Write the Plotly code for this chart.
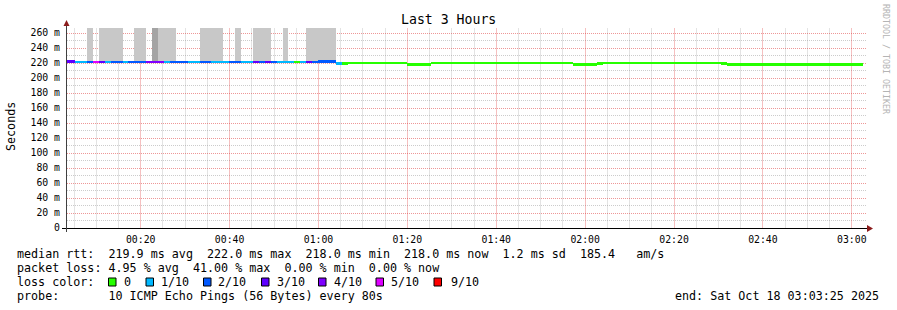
import plotly.graph_objects as go
import pandas as pd

# ---------------- data ----------------
FIRST_STEP_END = "2025-10-18 00:03:55"
STEP_SECONDS = 80
RANGE_START = "2025-10-18 00:03:25"
RANGE_END = "2025-10-18 03:03:25"

# lost pings (out of 10) per 80 s step
loss_count = [
    3, 3, 1, 1, 2, 5, 3, 1, 2, 2, 1, 2, 2, 2, 4, 4, 4, 1, 2, 2,
    2, 1, 1, 2, 2, 1, 1, 1, 2, 2, 1, 1, 3, 2, 3, 2, 1, 1, 1, 0,
    1, 3, 2, 2, 2, 2, 1, 0, 0, 0, 0, 0, 0, 0, 0, 0, 0, 0, 0, 0,
    0, 0, 0, 0, 0, 0, 0, 0, 0, 0, 0, 0, 0, 0, 0, 0, 0, 0, 0, 0,
    0, 0, 0, 0, 0, 0, 0, 0, 0, 0, 0, 0, 0, 0, 0, 0, 0, 0, 0, 0,
    0, 0, 0, 0, 0, 0, 0, 0, 0, 0, 0, 0, 0, 0, 0, 0, 0, 0, 0, 0,
    0, 0, 0, 0, 0, 0, 0, 0, 0, 0, 0, 0, 0, 0, 0,
]

# median rtt (ms) per step
median_ms = [
    222, 222, 221.5, 221.5, 221.5, 221.5, 221.5, 221.5, 221.5, 221.5,
    221.5, 221.5, 221.5, 221.5, 221.5, 221.5, 221.5, 221.5, 221.5, 221.5,
    221.5, 221.5, 221.5, 221.5, 221.5, 221.5, 221.5, 221.5, 221.5, 221.5,
    221.5, 221.5, 221.5, 221.5, 221.5, 221.5, 221.5, 221.5, 221.5, 221.5,
    221.5, 221.5, 221.5, 222, 222, 222, 219, 219, 220, 220,
    220, 220, 220, 220, 220, 220, 220, 220, 218, 218,
    218, 218, 220, 220, 220, 220, 220, 220, 220, 220,
    220, 220, 220, 220, 220, 220, 220, 220, 220, 220,
    220, 220, 220, 220, 220, 220, 218, 218, 218, 218,
    219, 220, 220, 220, 220, 220, 220, 220, 220, 220,
    220, 220, 220, 220, 220, 220, 220, 220, 220, 220,
    220, 219, 218, 218, 218, 218, 218, 218, 218, 218,
    218, 218, 218, 218, 218, 218, 218, 218, 218, 218,
    218, 218, 218, 218, 218,
]

# smoke (spread of individual pings): 0 none, 1 light, 2 dense
smoke_level = [
    0, 0, 0, 0, 1, 0, 1, 1, 1, 1, 0, 0, 1, 1, 0, 2, 1, 1, 1, 0,
    0, 0, 0, 1, 1, 1, 1, 0, 0, 1, 0, 0, 1, 1, 1, 0, 0, 1, 0, 0,
    0, 1, 1, 1, 1, 1, 0, 0, 0, 0, 0, 0, 0, 0, 0, 0, 0, 0, 0, 0,
    0, 0, 0, 0, 0, 0, 0, 0, 0, 0, 0, 0, 0, 0, 0, 0, 0, 0, 0, 0,
    0, 0, 0, 0, 0, 0, 0, 0, 0, 0, 0, 0, 0, 0, 0, 0, 0, 0, 0, 0,
    0, 0, 0, 0, 0, 0, 0, 0, 0, 0, 0, 0, 0, 0, 0, 0, 0, 0, 0, 0,
    0, 0, 0, 0, 0, 0, 0, 0, 0, 0, 0, 0, 0, 0, 0,
]
SMOKE_TOP_MS = 300  # slowest pings exceed the visible range

loss_labels = ["0", "1/10", "2/10", "3/10", "4/10", "5/10", "9/10"]
loss_colors = ["#26ff00", "#00b8ff", "#0059ff", "#5e00ff", "#7e00ff", "#dd00ff", "#ff0000"]

y_tick_vals = [0, 20, 40, 60, 80, 100, 120, 140, 160, 180, 200, 220, 240, 260]
y_tick_text = ["0", "20 m", "40 m", "60 m", "80 m", "100 m", "120 m", "140 m",
               "160 m", "180 m", "200 m", "220 m", "240 m", "260 m"]
y_minor_vals = [10, 30, 50, 70, 90, 110, 130, 150, 170, 190, 210, 230, 250]

x_tick_labels = ["00:20", "00:40", "01:00", "01:20", "01:40", "02:00", "02:20", "02:40", "03:00"]

stats_lines = [
    "median rtt:  219.9 ms avg  222.0 ms max  218.0 ms min  218.0 ms now  1.2 ms sd  185.4   am/s",
    "packet loss: 4.95 % avg  41.00 % max  0.00 % min  0.00 % now",
]
probe_line = "probe:       10 ICMP Echo Pings (56 Bytes) every 80s"
end_line = "end: Sat Oct 18 03:03:25 2025"

# ---------------- build ----------------
MONO = "DejaVu Sans Mono"
DAY = "2025-10-18 "
n = len(median_ms)
step_end = pd.Timestamp(FIRST_STEP_END) + pd.to_timedelta([i * STEP_SECONDS for i in range(n)], unit="s")
step_mid = step_end - pd.Timedelta(seconds=STEP_SECONDS / 2)
width_ms = STEP_SECONDS * 1000

x_major = [pd.Timestamp(DAY + t) for t in x_tick_labels]
x_minor = []
for t in x_major + [pd.Timestamp(DAY + "00:00")]:
    for k in (5, 10, 15):
        v = t + pd.Timedelta(minutes=k)
        if pd.Timestamp(RANGE_START) < v < pd.Timestamp(RANGE_END):
            x_minor.append(v)


def color_for(loss):
    if loss <= 0:
        return loss_colors[0]
    if loss >= 6:
        return loss_colors[6]
    return loss_colors[loss]


fig = go.Figure()

# smoke
for level, col in ((1, "#c8c8c8"), (2, "#a4a4a4")):
    xs, bases, hs = [], [], []
    for i in range(n):
        if smoke_level[i] == level:
            xs.append(step_mid[i])
            bases.append(median_ms[i])
            hs.append(SMOKE_TOP_MS - median_ms[i])
    fig.add_trace(go.Bar(x=xs, y=hs, base=bases, width=width_ms,
                         marker=dict(color=col, line=dict(width=0)),
                         hoverinfo="skip"))

# median line coloured by loss
LINE_T = 3.5
fig.add_trace(go.Bar(
    x=list(step_mid), y=[LINE_T] * n, base=[m - LINE_T / 2 for m in median_ms],
    width=width_ms,
    marker=dict(color=[color_for(l) for l in loss_count], line=dict(width=0)),
    hovertemplate="%{x}<extra></extra>"))

L, T, W, H = 67, 28, 800, 200


def px(x):
    return (x - L) / W


def py(y):
    return (T + H - y) / H


def nb(s):
    return s.replace(" ", "\u00a0")


fig.update_layout(
    width=897, height=310,
    margin=dict(l=L, r=897 - L - W, t=T, b=310 - T - H, pad=0),
    paper_bgcolor="white", plot_bgcolor="white",
    barmode="overlay", bargap=0, showlegend=False,
    font=dict(family=MONO, color="black"),
    xaxis=dict(
        type="date", range=[RANGE_START, RANGE_END],
        tickmode="array", tickvals=x_major, ticktext=x_tick_labels,
        showgrid=True, gridcolor="rgba(222,48,48,0.3)", griddash="solid", gridwidth=1,
        minor=dict(tickmode="array", tickvals=x_minor, showgrid=True,
                   gridcolor="rgba(143,143,143,0.25)", griddash="solid", gridwidth=1),
        ticks="", showline=False, zeroline=False,
        tickfont=dict(family=MONO, size=9.8, color="black"),
        ticklabelstandoff=4,
    ),
    yaxis=dict(
        range=[0, 200 / 0.75], tickmode="array", tickvals=y_tick_vals, ticktext=y_tick_text,
        showgrid=True, gridcolor="rgba(222,48,48,0.5)", griddash="1px,1px", gridwidth=1,
        minor=dict(tickmode="array", tickvals=y_minor_vals, showgrid=True,
                   gridcolor="rgba(143,143,143,0.45)", griddash="1px,1px", gridwidth=1),
        ticks="", showline=False, zeroline=False,
        tickfont=dict(family=MONO, size=9.8, color="black"),
        ticklabelstandoff=6,
    ),
)

shapes = []
# axes
shapes.append(dict(type="line", xref="paper", yref="paper", x0=px(62), x1=px(868),
                   y0=py(228.5), y1=py(228.5), line=dict(color="black", width=1)))
shapes.append(dict(type="line", xref="paper", yref="paper", x0=px(66.5), x1=px(66.5),
                   y0=py(232), y1=py(26), line=dict(color="#404040", width=1)))
# arrow heads
shapes.append(dict(type="path", xref="paper", yref="paper",
                   path=f"M {px(867)} {py(225)} L {px(873)} {py(228.5)} L {px(867)} {py(232)} Z",
                   fillcolor="#8b1c1c", line=dict(width=0)))
shapes.append(dict(type="path", xref="paper", yref="paper",
                   path=f"M {px(63.5)} {py(26)} L {px(66.5)} {py(20)} L {px(69.5)} {py(26)} Z",
                   fillcolor="#8b1c1c", line=dict(width=0)))

annotations = []


def text(s, x, y, size=11.7, anchor="left", color="black", angle=0):
    annotations.append(dict(text=nb(s), x=px(x), y=py(y), xref="paper", yref="paper",
                            xanchor=anchor, yanchor="middle", showarrow=False,
                            borderpad=0, textangle=angle,
                            font=dict(family=MONO, size=size, color=color)))


text("Last 3 Hours", 448, 19, size=13.2, anchor="center")
text("Seconds", 11, 126, size=11.7, anchor="center", angle=-90)
text("RRDTOOL / TOBI OETIKER", 886, 59, size=8.3, anchor="center", color="#b4b4b4", angle=90)
text(stats_lines[0], 16, 254)
text(stats_lines[1], 16, 268)
text("loss color:", 16, 282)
text(probe_line, 16, 296)
text(end_line, 880, 296, anchor="right")

sq_x = [108.5, 146, 203.5, 261.5, 318.5, 376, 434]
lab_x = [123, 160, 217, 276, 333, 390, 450]
for lab, col, sx, lx in zip(loss_labels, loss_colors, sq_x, lab_x):
    shapes.append(dict(type="rect", xref="paper", yref="paper",
                       x0=px(sx), x1=px(sx + 7.5), y0=py(278), y1=py(286),
                       fillcolor=col, line=dict(color="black", width=1)))
    text(lab, lx, 282)

fig.update_layout(shapes=shapes, annotations=annotations)
fig.write_html("out.html")
